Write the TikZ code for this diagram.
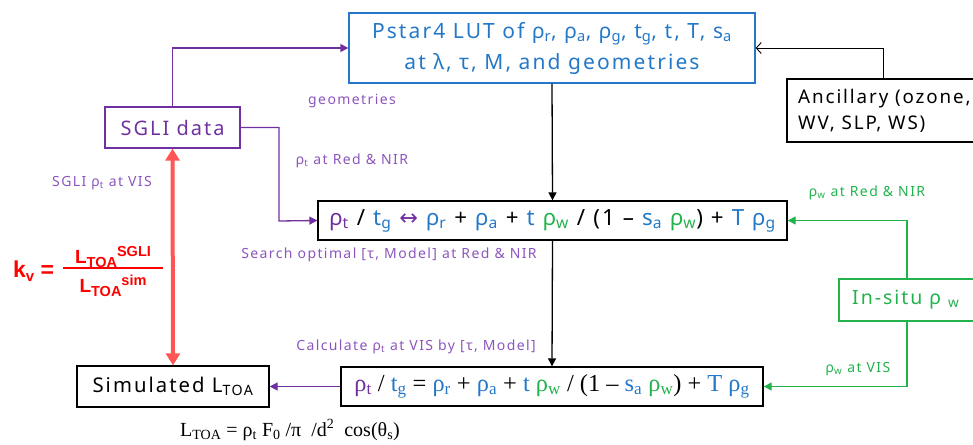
\documentclass[tikz,border=0pt]{standalone}
\usepackage{fontspec}
\setmainfont{Noto Sans}[LetterSpace=10]
\newfontfamily\serifface{Liberation Serif}
\newfontfamily\arrface{DejaVu Sans}
\newfontfamily\kvface{Liberation Sans}
\usetikzlibrary{arrows.meta}
\definecolor{cpurp}{RGB}{112,48,160}
\definecolor{lpurp}{RGB}{140,85,190}
\definecolor{cblue}{RGB}{36,120,200}
\definecolor{cgreen}{RGB}{34,178,76}
\definecolor{cred}{RGB}{255,0,0}
\definecolor{redarrow}{RGB}{255,85,85}
\newcommand\sbx[1]{\textsubscript{#1}}
\newcommand\fs[2]{\fontsize{#1}{#2}\selectfont}
\newcommand\kvL[1]{L{\fs{14.5}{16}\raisebox{-4pt}{TOA}\raisebox{7pt}{#1}}}
\tikzset{
  boxstyle/.style={draw, line width=1.3pt, inner sep=0pt, align=center},
  lbl/.style={inner sep=0pt, font=\fs{14}{17}},
  tip/.style={-{Triangle[length=8pt,width=8pt]}},
  conn/.style={line width=1.3pt},
  kvstyle/.style={inner sep=0pt, text=cred, font={\kvface\bfseries\fs{19}{22}}},
}
\begin{document}
\begin{tikzpicture}[x=1pt,y=-1pt]
\useasboundingbox (0,0) rectangle (973,444);
% boxes
\node[boxstyle, draw=cblue, text=cblue, minimum width=406pt, minimum height=70pt, font=\fs{21}{31}] (top) at (552,48)
  {Pstar4 LUT of ρ\sbx{r}, ρ\sbx{a}, ρ\sbx{g}, t\sbx{g}, t, T, s\sbx{a}\\ at λ, τ, M, and geometries};
\node[boxstyle, minimum width=192pt, minimum height=63pt] (anc) at (883,110.5) {};
\node[inner sep=0pt, align=left, anchor=west, font=\fs{18.8}{26}] (anctext) at (798,110.5) {Ancillary (ozone,\\WV, SLP, WS)};
\node[boxstyle, draw=cpurp, text=cpurp, minimum width=135pt, minimum height=41pt, font=\fs{20}{24}] (sgli) at (172.5,127.5) {SGLI data};
\node[boxstyle, minimum width=469pt, minimum height=39pt, font=\fs{22.3}{26}] (eq1) at (552.5,220.5)
  {{\color{cpurp}ρ\sbx{t}} / {\color{cblue}t\sbx{g}} {\color{cpurp}\arrface ↔} {\color{cblue}ρ\sbx{r}} + {\color{cblue}ρ\sbx{a}} + {\color{cblue}t} {\color{cgreen}ρ\sbx{w}} / (1 – {\color{cblue}s\sbx{a}} {\color{cgreen}ρ\sbx{w}}) + {\color{cblue}T ρ\sbx{g}}};
\node[boxstyle, minimum width=422pt, minimum height=39pt, font={\serifface\fs{24.4}{28}}] (eq2) at (552,386.5)
  {{\color{cpurp}ρ\sbx{t}} / {\color{cblue}t\sbx{g}} = {\color{cblue}ρ\sbx{r}} + {\color{cblue}ρ\sbx{a}} + {\color{cblue}t} {\color{cgreen}ρ\sbx{w}} / (1 – {\color{cblue}s\sbx{a}} {\color{cgreen}ρ\sbx{w}}) + {\color{cblue}T ρ\sbx{g}}};
\node[boxstyle, minimum width=192pt, minimum height=41pt, font=\fs{20.3}{24}] (sim) at (173,386.5) {Simulated L\sbx{TOA}};
\node[boxstyle, draw=cgreen, text=cgreen, minimum width=136pt, minimum height=42pt] (insitu) at (907,300) {};
\node[inner sep=0pt, anchor=west, text=cgreen, font=\fs{19.5}{24}] (insitutext) at (852,300) {In-situ ρ \sbx{w}};
% labels
\node[lbl, text=lpurp] (lgeo) at (352,101) {geometries};
\node[lbl, text=lpurp] (lrt) at (352,161) {ρ\sbx{t} at Red \& NIR};
\node[lbl, text=lpurp] (lvis) at (102,183) {SGLI ρ\sbx{t} at VIS};
\node[lbl, text=lpurp] (lsearch) at (389,255) {Search optimal [τ, Model] at Red \& NIR};
\node[lbl, text=lpurp] (lcalc) at (416,347) {Calculate ρ\sbx{t} at VIS by [τ, Model]};
\node[lbl, text=cgreen] (lwrn) at (867,193) {ρ\sbx{w} at Red \& NIR};
\node[lbl, text=cgreen] (lwvis) at (858,369) {ρ\sbx{w} at VIS};
\node[inner sep=0pt, font={\serifface\fs{20}{24}}] (ltoa) at (290,430) {L\sbx{TOA} = ρ\sbx{t} F\sbx{0} /π~ /d\textsuperscript{2}~ cos(θ\sbx{s})};
% k_v formula
\node[kvstyle, anchor=west, font={\kvface\bfseries\fs{23}{26}}] (kv) at (13,271) {k{\fs{15}{18}\raisebox{-4pt}{v}} =};
\node[kvstyle, anchor=base] (kvnum) at (113,263) {\kvL{SGLI}};
\node[kvstyle, anchor=base] (kvden) at (113,292) {\kvL{sim}};
\coordinate (barL) at (63,268);
\coordinate (barR) at (163,268);
\draw[cred, line width=1.8pt] (barL) -- (barR);
% connectors
\coordinate (bend1) at (279,221);
\draw[conn, cpurp, tip] (sgli.north) |- (top.west);
\draw[conn, cpurp, tip] (sgli.east) -| (bend1) -- (eq1.west);
\draw[line width=0.9pt, -{Straight Barb[length=5pt,width=11pt]}] (anc.north) |- (top.east);
\draw[conn, tip] (top.south) -- (eq1.north);
\draw[conn, tip] (eq1.south) -- (eq2.north);
\draw[conn, cpurp, tip] (eq2.west) -- (sim.east);
\draw[line width=4pt, redarrow, {Triangle[length=12pt,width=14pt]}-{Triangle[length=12pt,width=14pt]}] (sim.north) -- (sgli.south);
\draw[conn, cgreen, tip] (insitu.north) |- (eq1.east);
\draw[conn, cgreen, tip] (insitu.south) |- (eq2.east);
\end{tikzpicture}
\end{document}
